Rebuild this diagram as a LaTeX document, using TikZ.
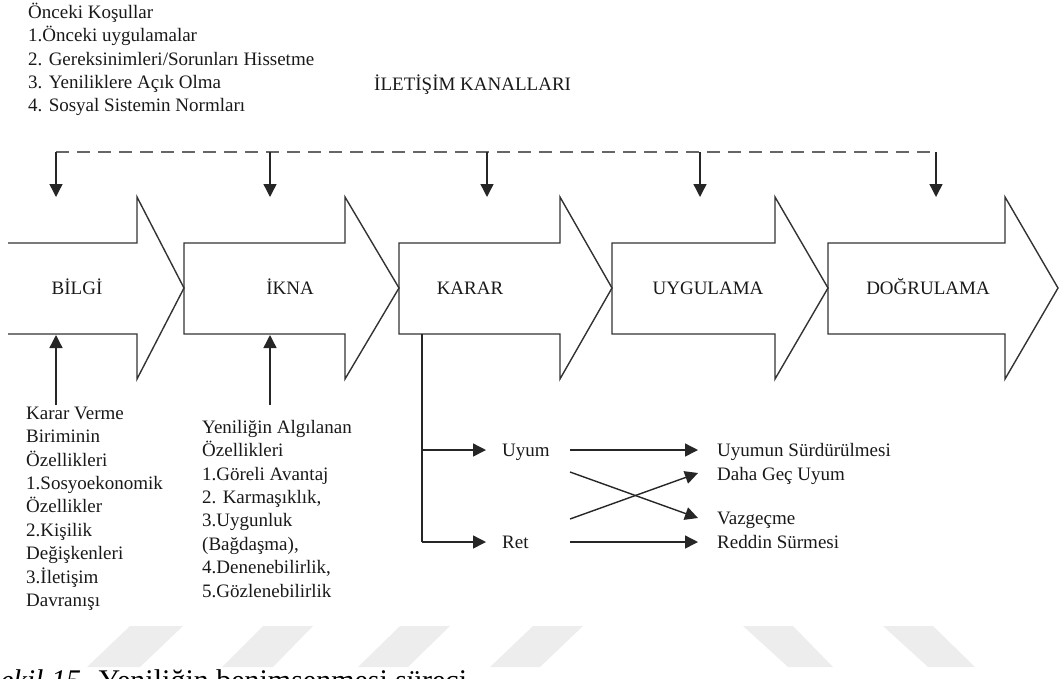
\documentclass[tikz,border=0pt]{standalone}
\usepackage{fontspec}
\setmainfont{Liberation Serif}
\usetikzlibrary{arrows.meta}
\begin{document}
\begin{tikzpicture}[x=1pt,y=-1pt,
  stage/.style={draw=black!80, line width=1.4pt, line join=miter},
  lbl/.style={font=\fontsize{19}{23.4}\selectfont, text=black!90, inner sep=0pt},
  blk/.style={lbl, align=left, anchor=north west},
  arr/.style={line width=1.4pt, draw=black!85, -{Triangle[length=13pt,width=13pt]}},
  plain/.style={line width=1.4pt, draw=black!85},
  chan/.style={line width=2pt, draw=black!60, dash pattern=on 13pt off 8pt},
  wm/.style={fill=black!7, draw=none}]
\useasboundingbox (0,0) rectangle (1059,678);

% watermark
\fill[wm] (130,626) -- (183,626) -- (140,667) -- (87,667) -- cycle;
\fill[wm] (263,626) -- (313,626) -- (273,667) -- (222,667) -- cycle;
\fill[wm] (400,626) -- (450,626) -- (408,667) -- (358,667) -- cycle;
\fill[wm] (533,626) -- (583,626) -- (540,667) -- (490,667) -- cycle;
\fill[wm] (743,626) -- (793,626) -- (833,667) -- (788,667) -- cycle;
\fill[wm] (883,626) -- (933,626) -- (975,667) -- (928,667) -- cycle;

% stage arrows
\begin{scope}
\clip (0,0) rectangle (1059,678);
\draw[stage] (8,243) -- (137,243) -- (137,197) -- (184,288) -- (137,379) -- (137,334) -- (8,334);
\draw[stage] (184,243) -- (345,243) -- (345,197) -- (399,288) -- (345,379) -- (345,334) -- (184,334) -- cycle;
\draw[stage] (399,243) -- (560,243) -- (560,197) -- (612,288) -- (560,379) -- (560,334) -- (399,334) -- cycle;
\draw[stage] (612,243) -- (775,243) -- (775,197) -- (828,288) -- (775,379) -- (775,334) -- (612,334) -- cycle;
\draw[stage] (828,243) -- (1005,243) -- (1005,197) -- (1058,288) -- (1005,379) -- (1005,334) -- (828,334) -- cycle;
\node[lbl, anchor=base west, text=black] (cap) at (-15,690) {\fontsize{30}{34}\selectfont\textit{Şekil 15.} Yeniliğin benimsenmesi süreci};
\end{scope}

\node[lbl, anchor=base] (bilgi) at (77,294.5) {BİLGİ};
\node[lbl, anchor=base] (ikna) at (290,294.5) {İKNA};
\node[lbl, anchor=base] (karar) at (470,294.5) {KARAR};
\node[lbl, anchor=base] (uyg) at (708,294.5) {UYGULAMA};
\node[lbl, anchor=base] (dogr) at (928,294.5) {DOĞRULAMA};

% top texts
\node[blk] (onc) at (28,-2) {\rule{0pt}{20pt}Önceki Koşullar\\1.Önceki uygulamalar\\2. Gereksinimleri/Sorunları Hissetme\\3. Yeniliklere Açık Olma\\4. Sosyal Sistemin Normları};
\node[lbl, anchor=base west] (kanal) at (374,90) {İLETİŞİM KANALLARI};

% communication channels
\coordinate (c1) at (56,152);
\coordinate (c5) at (936,152);
\coordinate (d1) at (56,197);
\coordinate (d2) at (270,197);
\coordinate (d3) at (487,197);
\coordinate (d4) at (700,197);
\coordinate (d5) at (936,197);
\draw[chan] (c1) -- (c5);
\foreach \d in {d1,d2,d3,d4,d5} \draw[arr] (\d |- c1) -- (\d);

% bottom texts
\node[blk] (kv) at (26,399) {\rule{0pt}{20pt}Karar Verme\\Biriminin\\Özellikleri\\1.Sosyoekonomik\\Özellikler\\2.Kişilik\\Değişkenleri\\3.İletişim\\Davranışı};
\node[blk] (yo) at (202,413) {\rule{0pt}{20pt}Yeniliğin Algılanan\\Özellikleri\\1.Göreli Avantaj\\2. Karmaşıklık,\\3.Uygunluk\\(Bağdaşma),\\4.Denenebilirlik,\\5.Gözlenebilirlik};
\coordinate (u1) at (56,335);
\coordinate (u2) at (270,335);
\draw[arr] (u1 |- kv.north) ++(0,6) -- (u1);
\draw[arr] (u2 |- yo.north) ++(0,-8) -- (u2);

% decision branch
\node[lbl, anchor=base west] (uyum) at (502,456) {Uyum};
\node[lbl, anchor=base west] (ret) at (502,548) {Ret};
\node[lbl, anchor=base west] (surd) at (717,456) {Uyumun Sürdürülmesi};
\node[lbl, anchor=base west] (gec) at (717,480) {Daha Geç Uyum};
\node[lbl, anchor=base west] (vaz) at (717,524) {Vazgeçme};
\node[lbl, anchor=base west] (redd) at (717,548) {Reddin Sürmesi};

\coordinate (kb) at (422,334);
\coordinate (kr) at (422,542);
\coordinate (au) at (486,450);
\coordinate (ar) at (486,542);
\draw[plain] (kb) -- (kr);
\draw[arr] (kb |- au) -- (au);
\draw[arr] (kr) -- (ar);
\draw[arr] (570,450) -- (698,450);
\draw[arr] (570,542) -- (698,542);
\draw[arr] (570,472) -- (698,518);
\draw[arr] (570,519) -- (698,473);
\end{tikzpicture}
\end{document}
